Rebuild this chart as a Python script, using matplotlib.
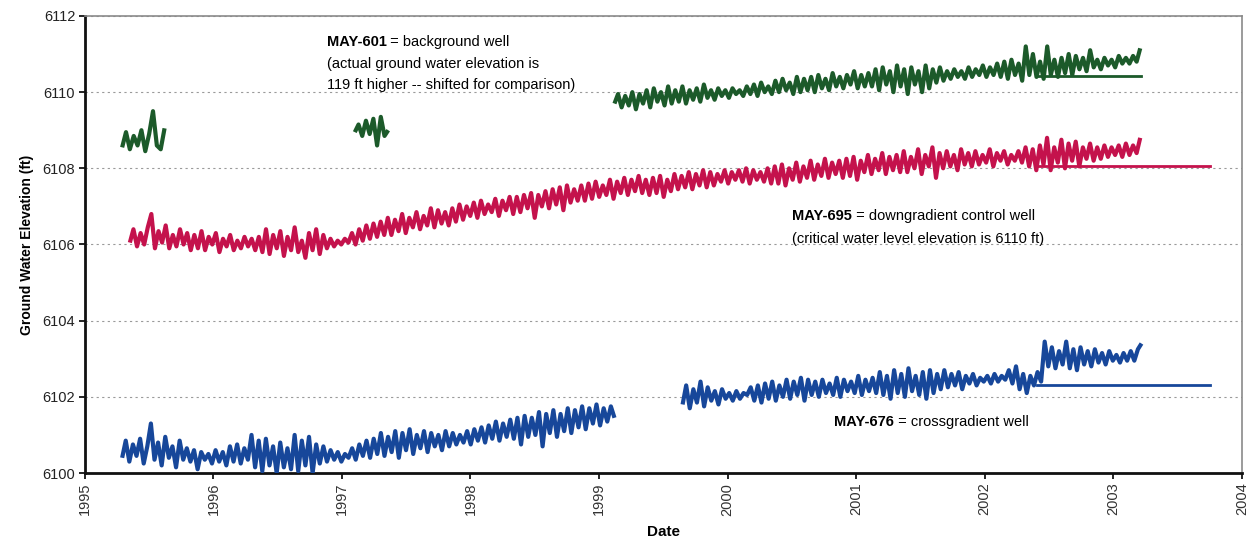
import numpy as np
import matplotlib
matplotlib.use("Agg")
import matplotlib.pyplot as plt

plt.rcParams['font.family'] = ['Liberation Sans', 'DejaVu Sans']

# ---------------- data ----------------
# MAY-695 downgradient control well (red), 1995.35 - 2003.21
red_start, red_end = 1995.35, 2003.21
red_vals = [
    6106.05, 6106.40, 6105.95, 6106.30, 6106.00, 6106.45, 6106.80, 6105.90, 6106.35, 6106.05, 6106.50, 6105.90, 6106.25, 6105.95, 6106.40, 6106.00, 6106.30, 6105.85,
    6106.25, 6105.90, 6106.35, 6105.85, 6106.20, 6106.00, 6106.30, 6105.80, 6106.15, 6105.95, 6106.25, 6105.85, 6106.10, 6105.90, 6106.20, 6105.95, 6106.15, 6105.85,
    6106.20, 6105.80, 6106.40, 6105.75, 6106.25, 6105.90, 6106.35, 6105.70, 6106.20, 6105.85, 6106.45, 6105.80, 6106.10, 6105.65, 6106.30, 6105.85, 6106.40, 6105.75,
    6106.25, 6105.90, 6106.15, 6105.95, 6106.10, 6106.00, 6106.15, 6106.05, 6106.30, 6106.00, 6106.40, 6106.10, 6106.50, 6106.15, 6106.55, 6106.20, 6106.60, 6106.25,
    6106.70, 6106.25, 6106.65, 6106.35, 6106.80, 6106.30, 6106.70, 6106.45, 6106.85, 6106.40, 6106.75, 6106.50, 6106.95, 6106.45, 6106.90, 6106.55, 6106.85, 6106.50,
    6106.95, 6106.60, 6107.05, 6106.65, 6107.00, 6106.75, 6107.10, 6106.70, 6107.15, 6106.80, 6107.05, 6106.85, 6107.20, 6106.75, 6107.15, 6106.90, 6107.25, 6106.80,
    6107.25, 6106.85, 6107.30, 6106.95, 6107.35, 6106.70, 6107.30, 6107.00, 6107.40, 6106.95, 6107.45, 6107.05, 6107.50, 6106.90, 6107.55, 6107.10, 6107.45, 6107.15,
    6107.55, 6107.15, 6107.60, 6107.20, 6107.65, 6107.25, 6107.55, 6107.30, 6107.70, 6107.20, 6107.65, 6107.35, 6107.75, 6107.30, 6107.70, 6107.40, 6107.80, 6107.35,
    6107.70, 6107.30, 6107.75, 6107.35, 6107.80, 6107.25, 6107.70, 6107.40, 6107.85, 6107.45, 6107.80, 6107.50, 6107.90, 6107.45, 6107.85, 6107.55, 6107.95, 6107.50,
    6107.90, 6107.55, 6107.85, 6107.65, 6107.95, 6107.60, 6107.90, 6107.70, 6107.95, 6107.65, 6108.00, 6107.60, 6107.95, 6107.70, 6107.90, 6107.65, 6108.00, 6107.60,
    6108.05, 6107.60, 6108.10, 6107.55, 6108.00, 6107.70, 6108.15, 6107.65, 6108.05, 6107.75, 6108.20, 6107.70, 6108.10, 6107.80, 6108.25, 6107.75, 6108.15, 6107.85,
    6108.20, 6107.75, 6108.25, 6107.80, 6108.30, 6107.70, 6108.20, 6107.90, 6108.35, 6107.85, 6108.25, 6107.95, 6108.40, 6107.85, 6108.30, 6107.95, 6108.35, 6107.90,
    6108.45, 6107.90, 6108.30, 6108.00, 6108.50, 6107.85, 6108.35, 6108.05, 6108.55, 6107.75, 6108.40, 6108.00, 6108.45, 6108.05, 6108.35, 6107.95, 6108.50, 6108.10,
    6108.40, 6108.05, 6108.45, 6108.10, 6108.35, 6108.15, 6108.50, 6108.05, 6108.40, 6108.20, 6108.45, 6108.10, 6108.35, 6108.20, 6108.45, 6108.15, 6108.55, 6108.05,
    6108.50, 6107.95, 6108.60, 6108.10, 6108.80, 6107.95, 6108.55, 6108.15, 6108.75, 6108.00, 6108.65, 6108.20, 6108.70, 6108.05, 6108.55, 6108.25, 6108.65, 6108.20,
    6108.55, 6108.25, 6108.60, 6108.30, 6108.55, 6108.35, 6108.60, 6108.30, 6108.65, 6108.35, 6108.60, 6108.40, 6108.80,
]
red_flat_x = [2002.40, 2003.75]
red_flat_y = [6108.05, 6108.05]

# MAY-676 crossgradient well (blue), two records
blue1_start, blue1_end = 1995.29, 1999.12
blue1_vals = [
    6100.40, 6100.85, 6100.30, 6100.75, 6100.45, 6100.90, 6100.25, 6100.70, 6101.30, 6100.35, 6100.80, 6100.20, 6100.95, 6100.40, 6100.70, 6100.15, 6100.85, 6100.35,
    6100.65, 6100.30, 6100.60, 6100.10, 6100.55, 6100.35, 6100.50, 6100.25, 6100.60, 6100.30, 6100.55, 6100.20, 6100.70, 6100.30, 6100.75, 6100.25, 6100.65, 6100.35,
    6101.00, 6100.15, 6100.85, 6100.05, 6100.90, 6100.20, 6100.70, 6100.00, 6100.80, 6100.15, 6100.65, 6100.10, 6101.00, 6100.05, 6100.85, 6100.20, 6100.95, 6100.00,
    6100.75, 6100.25, 6100.70, 6100.30, 6100.60, 6100.35, 6100.55, 6100.30, 6100.50, 6100.40, 6100.65, 6100.35, 6100.75, 6100.45, 6100.85, 6100.40, 6100.90, 6100.50,
    6101.05, 6100.45, 6100.95, 6100.55, 6101.10, 6100.40, 6101.05, 6100.60, 6101.15, 6100.50, 6101.00, 6100.65, 6101.10, 6100.55, 6101.05, 6100.70, 6101.00, 6100.60,
    6101.10, 6100.70, 6101.05, 6100.75, 6101.00, 6100.80, 6101.10, 6100.75, 6101.15, 6100.85, 6101.20, 6100.80, 6101.25, 6100.90, 6101.35, 6100.85, 6101.30, 6100.95,
    6101.40, 6100.90, 6101.45, 6100.75, 6101.50, 6100.95, 6101.45, 6101.00, 6101.60, 6100.70, 6101.55, 6101.05, 6101.65, 6100.95, 6101.55, 6101.10, 6101.70, 6101.05,
    6101.65, 6101.20, 6101.75, 6101.15, 6101.70, 6101.30, 6101.80, 6101.25, 6101.70, 6101.35, 6101.75, 6101.45,
]
blue2_start, blue2_end = 1999.65, 2003.22
blue2_vals = [
    6101.80, 6102.30, 6101.70, 6102.20, 6101.85, 6102.40, 6101.75, 6102.25, 6101.90, 6102.15, 6101.80, 6102.20, 6101.95, 6102.10, 6101.90, 6102.15, 6101.95, 6102.10,
    6102.05, 6102.25, 6101.90, 6102.30, 6101.85, 6102.35, 6101.95, 6102.40, 6101.90, 6102.30, 6102.00, 6102.45, 6101.95, 6102.40, 6102.05, 6102.50, 6101.90, 6102.45,
    6102.05, 6102.40, 6102.00, 6102.45, 6102.10, 6102.35, 6102.05, 6102.50, 6102.00, 6102.45, 6102.15, 6102.40, 6102.10, 6102.55, 6102.05, 6102.45, 6102.15, 6102.50,
    6102.10, 6102.65, 6102.05, 6102.55, 6101.95, 6102.70, 6102.10, 6102.60, 6102.00, 6102.75, 6102.15, 6102.55, 6102.05, 6102.65, 6101.95, 6102.70, 6102.10, 6102.60,
    6102.20, 6102.70, 6102.25, 6102.60, 6102.30, 6102.65, 6102.20, 6102.55, 6102.35, 6102.60, 6102.30, 6102.50, 6102.40, 6102.55, 6102.35, 6102.60, 6102.40, 6102.55,
    6102.45, 6102.70, 6102.35, 6102.80, 6102.20, 6102.60, 6102.10, 6102.55, 6102.30, 6102.65, 6102.40, 6103.45, 6102.80, 6103.30, 6102.75, 6103.20, 6102.85, 6103.45,
    6102.75, 6103.25, 6102.70, 6103.30, 6102.85, 6103.20, 6102.80, 6103.25, 6102.90, 6103.15, 6102.85, 6103.20, 6102.95, 6103.10, 6102.90, 6103.15, 6102.95, 6103.20,
    6102.95, 6103.25, 6103.40,
]
blue_flat_x = [2002.41, 2003.75]
blue_flat_y = [6102.30, 6102.30]

# MAY-601 background well (green), shifted -119 ft, three records
green1_start, green1_end = 1995.29, 1995.62
green1_vals = [6108.55, 6108.95, 6108.50, 6108.85, 6108.60, 6109.00, 6108.45, 6108.90,
               6109.50, 6108.60, 6108.50, 6109.05]
green2_start, green2_end = 1997.10, 1997.36
green2_vals = [6108.95, 6109.15, 6108.85, 6109.25, 6108.90, 6109.30, 6108.60, 6109.35,
               6108.85, 6109.00]
green3_start, green3_end = 1999.12, 2003.21
green3_vals = [
    6109.70, 6109.95, 6109.60, 6109.90, 6109.65, 6110.00, 6109.55, 6109.95, 6109.70, 6110.05, 6109.60, 6110.10, 6109.75, 6110.00, 6109.65, 6110.15, 6109.70, 6110.05,
    6109.75, 6110.15, 6109.70, 6110.05, 6109.80, 6110.10, 6109.75, 6110.20, 6109.85, 6110.05, 6109.80, 6110.10, 6109.90, 6110.05, 6109.85, 6110.10, 6109.95, 6110.05,
    6109.90, 6110.15, 6109.95, 6110.20, 6109.90, 6110.25, 6110.00, 6110.15, 6109.95, 6110.30, 6110.00, 6110.35, 6110.05, 6110.25, 6109.95, 6110.40, 6110.00, 6110.35,
    6110.05, 6110.40, 6110.00, 6110.45, 6110.10, 6110.35, 6110.05, 6110.50, 6110.15, 6110.40, 6110.10, 6110.45, 6110.20, 6110.55, 6110.10, 6110.45, 6110.15, 6110.50,
    6110.15, 6110.60, 6110.05, 6110.65, 6110.20, 6110.55, 6110.00, 6110.70, 6110.15, 6110.60, 6109.95, 6110.65, 6110.20, 6110.55, 6110.00, 6110.70, 6110.10, 6110.60,
    6110.25, 6110.65, 6110.30, 6110.55, 6110.35, 6110.60, 6110.40, 6110.55, 6110.35, 6110.65, 6110.40, 6110.60, 6110.45, 6110.70, 6110.40, 6110.65, 6110.45, 6110.75,
    6110.40, 6110.80, 6110.35, 6110.85, 6110.45, 6110.75, 6110.30, 6111.20, 6110.45, 6111.00, 6110.40, 6110.80, 6110.35, 6111.20, 6110.45, 6110.85, 6110.40, 6110.90,
    6110.50, 6111.00, 6110.45, 6110.95, 6110.60, 6110.90, 6110.55, 6111.10, 6110.65, 6110.85, 6110.60, 6110.90, 6110.70, 6110.85, 6110.65, 6110.95, 6110.75, 6110.90,
    6110.75, 6110.95, 6110.80, 6111.15,
]
green_flat_x = [2002.40, 2003.22]
green_flat_y = [6110.42, 6110.42]

year_ticks = [1995, 1996, 1997, 1998, 1999, 2000, 2001, 2002, 2003, 2004]
elev_ticks = [6100, 6102, 6104, 6106, 6108, 6110, 6112]

RED = '#c4124c'
BLUE = '#17479a'
GREEN = '#1c5a2a'

# ---------------- figure ----------------
fig = plt.figure(figsize=(12.48, 5.39), dpi=100)
ax = fig.add_axes([0.068, 0.1224, 0.927, 0.848])


def series(start, end, vals):
    return np.linspace(start, end, len(vals)), np.asarray(vals)


lw = 3.0
for s, e, v, c in [(green1_start, green1_end, green1_vals, GREEN),
                   (green2_start, green2_end, green2_vals, GREEN),
                   (green3_start, green3_end, green3_vals, GREEN),
                   (red_start, red_end, red_vals, RED),
                   (blue1_start, blue1_end, blue1_vals, BLUE),
                   (blue2_start, blue2_end, blue2_vals, BLUE)]:
    x, y = series(s, e, v)
    ax.plot(x, y, color=c, lw=lw, solid_joinstyle='round', solid_capstyle='butt', zorder=3)

ax.plot(green_flat_x, green_flat_y, color=GREEN, lw=2.0, zorder=3)
ax.plot(red_flat_x, red_flat_y, color=RED, lw=2.0, zorder=3)
ax.plot(blue_flat_x, blue_flat_y, color=BLUE, lw=2.0, zorder=3)

ax.set_xlim(1995, 2004)
ax.set_ylim(6100, 6112)
ax.set_xticks(year_ticks)
ax.set_xticklabels([str(t) for t in year_ticks], rotation=90, fontsize=10.5, color='#333333')
ax.set_yticks(elev_ticks)
ax.set_yticklabels([str(t) for t in elev_ticks], fontsize=10.5, color='#222222')
ax.tick_params(axis='x', direction='out', length=4, width=1.2, pad=3)
ax.tick_params(axis='y', direction='out', length=4, width=1.2, pad=3)

ax.grid(axis='y', linestyle=(0, (2, 3)), color='#9a9a9a', linewidth=0.8, zorder=1)

ax.spines['left'].set_linewidth(2.0)
ax.spines['bottom'].set_linewidth(2.0)
ax.spines['left'].set_color('#111111')
ax.spines['bottom'].set_color('#111111')
for sp in ['top', 'right']:
    ax.spines[sp].set_color('#8a8a8a')
    ax.spines[sp].set_linewidth(1.2)

ax.set_xlabel('Date', fontsize=11, fontweight='bold', labelpad=7)
ax.set_ylabel('Ground Water Elevation (ft)', fontsize=10, fontweight='bold', labelpad=6)


def label(x, y, bold, rest):
    t1 = ax.text(x, y, bold, fontsize=10.5, fontweight='bold', va='baseline', ha='left', zorder=4)
    ax.annotate(rest, xy=(1, 0), xycoords=t1, va='bottom', ha='left', fontsize=10.5,
                annotation_clip=False)


label(1996.88, 6111.22, 'MAY-601', ' = background well')
ax.text(1996.88, 6110.64, '(actual ground water elevation is', fontsize=10.5, va='baseline')
ax.text(1996.88, 6110.08, '119 ft higher -- shifted for comparison)', fontsize=10.5, va='baseline')

label(2000.505, 6106.63, 'MAY-695', ' = downgradient control well')
ax.text(2000.505, 6106.05, '(critical water level elevation is 6110 ft)', fontsize=10.5, va='baseline')

label(2000.83, 6101.24, 'MAY-676', ' = crossgradient well')

fig.savefig('out.png', dpi=100)
